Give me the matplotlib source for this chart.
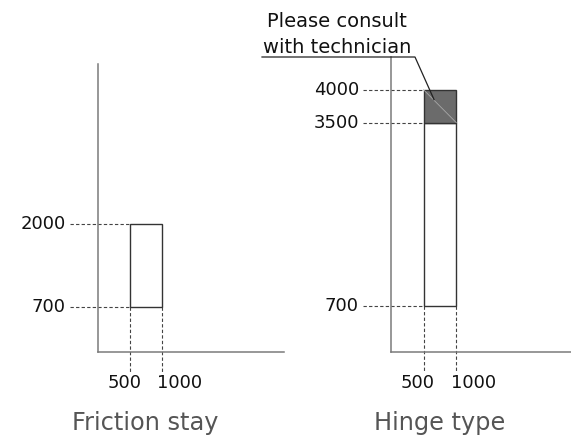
import matplotlib
matplotlib.use("Agg")
import matplotlib.pyplot as plt
from matplotlib.patches import Rectangle
from matplotlib.lines import Line2D

plt.rcParams['font.family'] = ['DejaVu Sans']

# ---- data ----
panel_titles = ["Friction stay", "Hinge type"]
width_min = [500, 500]
width_max = [1000, 1000]
height_min = [700, 700]
height_max = [2000, 3500]          # standard range top
consult_max = [None, 4000]         # range needing consultation
note_lines = ["Please consult", "with technician"]

W, H = 571, 440
fig = plt.figure(figsize=(W / 100, H / 100), dpi=100)

def frac(x, y):
    return x / W, 1 - y / H

axes_px = [(98, 64, 284, 352), (391, 57, 571, 352)]
xlims = [2900, 2760]
ylim = 4500

axis_col = '#7a7a7a'
edge_col = '#333333'
dash_col = '#444444'
txt_col = '#111111'

axs = []
for i, (l, t, r, b) in enumerate(axes_px):
    ax = fig.add_axes([l / W, 1 - b / H, (r - l) / W, (b - t) / H])
    ax.set_xlim(0, xlims[i])
    ax.set_ylim(0, ylim)
    for s in ['top', 'right']:
        ax.spines[s].set_visible(False)
    for s in ['left', 'bottom']:
        ax.spines[s].set_color(axis_col)
        ax.spines[s].set_linewidth(1.1)
    ax.set_xticks([])
    ax.set_yticks([])
    ax.patch.set_alpha(0)
    axs.append(ax)

def data_shift(ax, x, y, dx_px, dy_px):
    p = ax.transData.transform((x, y))
    return ax.transData.inverted().transform((p[0] + dx_px, p[1] + dy_px))

for i, ax in enumerate(axs):
    x0, x1 = width_min[i], width_max[i]
    y0, y1 = height_min[i], height_max[i]
    # standard box
    ax.add_patch(Rectangle((x0, y0), x1 - x0, y1 - y0, facecolor='white',
                           edgecolor=edge_col, lw=1.0, zorder=3))
    ylevels = [y0, y1]
    if consult_max[i] is not None:
        c = consult_max[i]
        ax.add_patch(Rectangle((x0, y1), x1 - x0, c - y1, facecolor='#6b6b6b',
                               edgecolor=edge_col, lw=1.0, zorder=3))
        ax.plot([x0, x1], [c, y1], color='#a8a8a8', lw=0.6, zorder=4)
        ylevels.append(c)
    # horizontal dashed guides + y labels
    for v in ylevels:
        xs = data_shift(ax, 0, v, -28, 0)[0]
        ax.plot([xs, x0], [v, v], color=dash_col, lw=0.8,
                linestyle=(0, (3, 2)), clip_on=False, zorder=2)
        ax.annotate(str(v), xy=(0, v), xycoords='data', xytext=(-32, 0),
                    textcoords='offset pixels', ha='right', va='center',
                    fontsize=13, color=txt_col, annotation_clip=False)
    # vertical dashed guides + x labels
    for v in [x0, x1]:
        yb = data_shift(ax, v, 0, 0, -20)[1]
        ax.plot([v, v], [y0, yb], color=dash_col, lw=0.8,
                linestyle=(0, (3, 2)), clip_on=False, zorder=2)
    ax.annotate(str(x0), xy=(x0, 0), xytext=(11, -36), textcoords='offset pixels',
                ha='right', va='baseline', fontsize=13, color=txt_col,
                annotation_clip=False)
    ax.annotate(str(x1), xy=(x1, 0), xytext=(-5, -36), textcoords='offset pixels',
                ha='left', va='baseline', fontsize=13, color=txt_col,
                annotation_clip=False)

# panel titles in figure coords
title_x = [145, 440]
for i, t in enumerate(panel_titles):
    fig.text(*frac(title_x[i], 430), t, ha='center', va='baseline',
             fontsize=17.3, color='#555555')

# note text
fig.text(*frac(337, 27), note_lines[0], ha='center', va='baseline',
         fontsize=14, color=txt_col)
fig.text(*frac(337, 53), note_lines[1], ha='center', va='baseline',
         fontsize=14, color=txt_col)

# underline + leader line
tgt = axs[1].transData.transform((660, 3850))
tgt_f = fig.transFigure.inverted().transform(tgt)
u0 = frac(262, 57)
u1 = frac(415, 57)
fig.add_artist(Line2D([u0[0], u1[0], tgt_f[0]], [u0[1], u1[1], tgt_f[1]],
                      transform=fig.transFigure, color='#222222', lw=0.9))

fig.savefig('out.png', dpi=100)
